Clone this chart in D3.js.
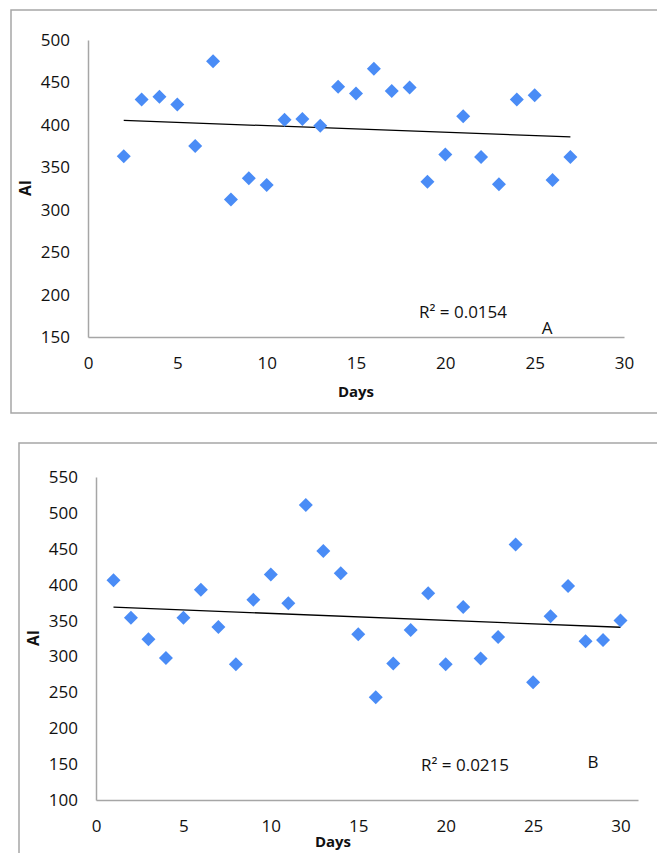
<!DOCTYPE html>
<html>
<head>
<meta charset="utf-8">
<script src="https://cdn.jsdelivr.net/npm/d3@7"></script>
<style>
  body { margin: 0; background: #fff; }
  svg { display: block; font-family: "Open Sans", sans-serif; }
</style>
</head>
<body>
<div id="chart"></div>
<script>
// Panel A data
const daysA = [2,3,4,5,6,7,8,9,10,11,12,13,14,15,16,17,18,19,20,21,22,23,24,25,26,27];
const aiA = [363,430,433,424,375,475,312,337,329,406,407,399,445,437,466,440,444,333,365,410,362,330,430,435,335,362];

// Panel B data
const daysB = [1,2,3,4,5,6,7,8,9,10,11,12,13,14,15,16,17,18,19,20,21,22,23,24,25,26,27,28,29,30];
const aiB = [406,354,324,298,354,393,341,289,379,414,374,511,447,416,331,243,290,337,388,289,369,297,327,456,264,356,398,321,323,350];

const xTicks = [0,5,10,15,20,25,30];
const yTicksA = [150,200,250,300,350,400,450,500];
const yTicksB = [100,150,200,250,300,350,400,450,500,550];
const r2Labels = ["R² = 0.0154", "R² = 0.0215"];
const panelLabels = ["A", "B"];

const W = 657, H = 853;
const svg = d3.select("#chart").append("svg").attr("width", W).attr("height", H);

const panels = [
  { x: daysA, y: aiA, yTicks: yTicksA, xDom: [0, 30], yDom: [150, 500],
    frame: [11, 10, 660, 403], plot: { l: 88, r: 624, t: 40, b: 337 },
    r2: r2Labels[0], tag: panelLabels[0], r2Pos: [463, 318], tagPos: [547, 334],
    daysPos: [356, 397], aiPos: [31, 188] },
  { x: daysB, y: aiB, yTicks: yTicksB, xDom: [0, 31], yDom: [100, 550],
    frame: [19, 443, 660, 420], plot: { l: 96, r: 638, t: 477, b: 800 },
    r2: r2Labels[1], tag: panelLabels[1], r2Pos: [465, 771], tagPos: [593, 768],
    daysPos: [333, 847], aiPos: [39, 638] }
];

panels.forEach(function(p) {
  // outer chart border
  svg.append("rect")
    .attr("x", p.frame[0]).attr("y", p.frame[1])
    .attr("width", p.frame[2]).attr("height", p.frame[3])
    .attr("fill", "none").attr("stroke", "#a6a6a6").attr("stroke-width", 1.5);

  const x = d3.scaleLinear().domain(p.xDom).range([p.plot.l, p.plot.r]);
  const y = d3.scaleLinear().domain(p.yDom).range([p.plot.b, p.plot.t]);

  const gy = svg.append("g")
    .attr("transform", `translate(${p.plot.l},0)`)
    .call(d3.axisLeft(y).tickValues(p.yTicks).tickSize(0).tickPadding(18));
  const gx = svg.append("g")
    .attr("transform", `translate(0,${p.plot.b})`)
    .call(d3.axisBottom(x).tickValues(xTicks).tickSize(0).tickPadding(20));

  [gx, gy].forEach(function(g) {
    g.select(".domain").attr("stroke", "#a6a6a6").attr("stroke-width", 1.5);
    g.selectAll("text").attr("font-size", 17).attr("fill", "#111")
      .attr("font-family", "Open Sans, sans-serif");
  });

  // linear trend line
  const mx = d3.mean(p.x), my = d3.mean(p.y);
  let sxy = 0, sxx = 0;
  p.x.forEach(function(v, i) { sxy += (v - mx) * (p.y[i] - my); sxx += (v - mx) * (v - mx); });
  const slope = sxy / sxx, icpt = my - slope * mx;
  const [x0, x1] = d3.extent(p.x);
  svg.append("line")
    .attr("x1", x(x0)).attr("y1", y(icpt + slope * x0))
    .attr("x2", x(x1)).attr("y2", y(icpt + slope * x1))
    .attr("stroke", "#000").attr("stroke-width", 1.3);

  // diamond markers
  const diamond = d3.symbol().type(d3.symbolSquare).size(98);
  svg.append("g").selectAll("path")
    .data(p.x.map((d, i) => [d, p.y[i]]))
    .join("path")
    .attr("d", diamond)
    .attr("transform", d => `translate(${x(d[0])},${y(d[1])}) rotate(45)`)
    .attr("fill", "#4a8cf6");

  svg.append("text")
    .attr("x", p.r2Pos[0]).attr("y", p.r2Pos[1])
    .attr("text-anchor", "middle").attr("font-size", 17).attr("fill", "#111")
    .text(p.r2);
  svg.append("text")
    .attr("x", p.tagPos[0]).attr("y", p.tagPos[1])
    .attr("text-anchor", "middle").attr("font-size", 17).attr("fill", "#111")
    .text(p.tag);

  svg.append("text")
    .attr("x", p.daysPos[0]).attr("y", p.daysPos[1])
    .attr("text-anchor", "middle").attr("font-size", 15).attr("font-weight", "bold")
    .attr("fill", "#111").text("Days");
  svg.append("text")
    .attr("transform", `translate(${p.aiPos[0]},${p.aiPos[1]}) rotate(-90)`)
    .attr("text-anchor", "middle").attr("font-size", 15.5).attr("font-weight", "bold")
    .attr("fill", "#111").text("AI");
});
</script>
</body>
</html>
